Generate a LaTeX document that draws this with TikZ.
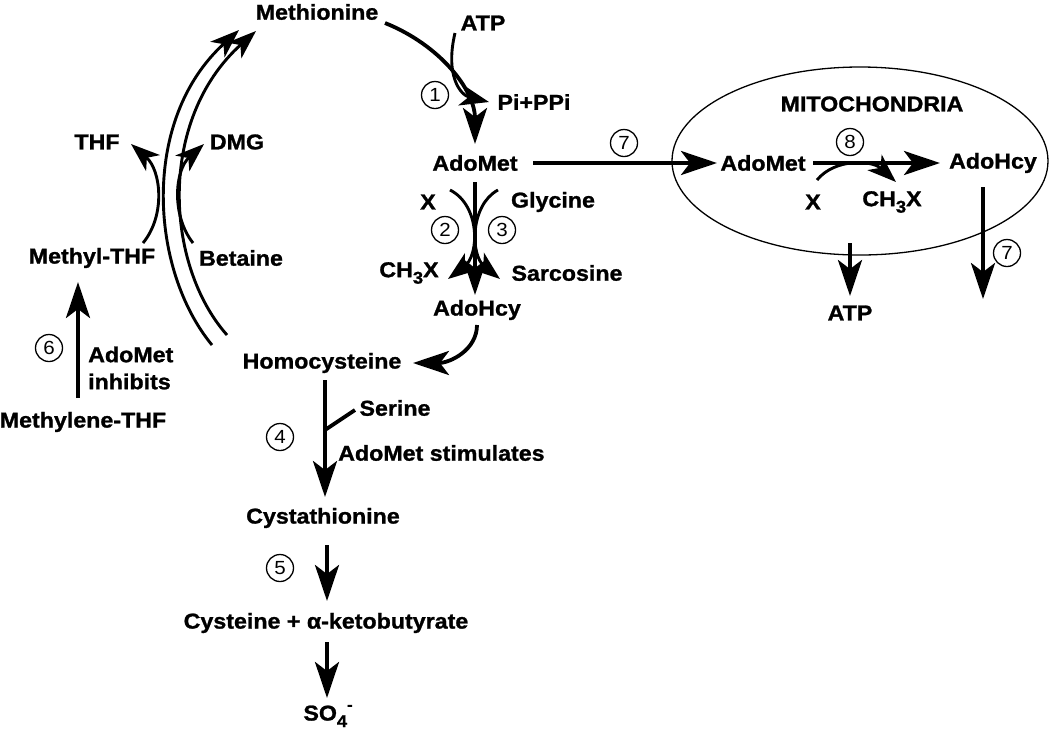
\documentclass[tikz,border=0pt]{standalone}
\usepackage{fontspec}
\setmainfont{Liberation Sans}[FakeStretch=1.08, BoldFeatures={FakeBold=1.2}]
\usetikzlibrary{arrows.meta,shapes.geometric}
\newcommand{\lowsub}[1]{\raisebox{-0.3em}{\fontsize{17}{17}\selectfont #1}}
\newcommand{\upsup}[1]{\raisebox{0.5em}{\fontsize{15}{15}\selectfont #1}}
\begin{document}
\begin{tikzpicture}[x=1pt,y=-1pt,
 lbl/.style={font=\fontsize{21.5}{27}\selectfont\bfseries, inner sep=0pt},
 num/.style={circle, draw, line width=1.3pt, minimum size=27pt, inner sep=0pt, font=\fontsize{19}{19}\selectfont},
 arr/.style={line width=3.8pt, -{Stealth[length=36pt 0 0,width=24pt 0 0,inset=9pt 0]}},
 carr/.style={line width=2.9pt, -{Stealth[length=29pt 0 0,width=21pt 0 0,inset=8pt 0]}},
 ln/.style={line width=3.8pt}]
\useasboundingbox (0,0) rectangle (1050,732);
% labels
\node[lbl] (met) at (317,12) {Methionine};
\node[lbl] (atp) at (483,23) {ATP};
\node[lbl] (pippi) at (534,102) {Pi+PPi};
\node[lbl] (adomet) at (475,163) {AdoMet};
\node[lbl] (x) at (428,202) {X};
\node[lbl] (gly) at (553,202) {Glycine};
\node[lbl] (ch3x) at (409,273) {CH\lowsub{3}X};
\node[lbl] (sarc) at (567,273) {Sarcosine};
\node[lbl] (adohcy) at (477,310) {AdoHcy};
\node[lbl] (hcy) at (322,363) {Homocysteine};
\node[lbl] (ser) at (395,408) {Serine};
\node[lbl, anchor=west] (stim) at (338,453) {AdoMet stimulates};
\node[lbl] (cysta) at (323,518) {Cystathionine};
\node[lbl] (cys) at (326,623) {Cysteine + α-ketobutyrate};
\node[lbl] (so4) at (328,716) {SO\lowsub{4}\upsup{-}};
\node[lbl] (thf) at (97,142) {THF};
\node[lbl] (dmg) at (237,142) {DMG};
\node[lbl] (mthf) at (92,258) {Methyl-THF};
\node[lbl] (bet) at (241,258) {Betaine};
\node[lbl, anchor=west, align=left] (inh) at (88,368) {AdoMet\\inhibits};
\node[lbl] (mlthf) at (83,422) {Methylene-THF};
% mitochondria
\node[ellipse, draw, line width=1.3pt, minimum width=376pt, minimum height=188pt] (mito) at (860,161) {};
\node[lbl] (mitot) at (872,104) {MITOCHONDRIA};
\node[lbl] (madomet) at (763,163) {AdoMet};
\node[lbl] (madohcy) at (993,163) {AdoHcy};
\node[lbl] (mx) at (813,202) {X};
\node[lbl] (mch3x) at (892,202) {CH\lowsub{3}X};
\node[lbl] (matp) at (850,313) {ATP};
% step numbers
\node[num] (n1) at (435,95) {1};
\node[num] (n2) at (445,230) {2};
\node[num] (n3) at (502,230) {3};
\node[num] (n4) at (280,437) {4};
\node[num] (n5) at (280,568) {5};
\node[num] (n6) at (49,348) {6};
\node[num] (n7) at (624,143) {7};
\node[num] (n8) at (850,142) {8};
\node[num] (n7b) at (1007,253) {7};
% coordinates
\coordinate (a1) at (385,23);
\coordinate (a2) at (475,144);
\coordinate (b1) at (455,33);
\coordinate (b2) at (489,102);
\coordinate (c1) at (475,182);
\coordinate (c2) at (475,295);
\coordinate (d1) at (450,190);
\coordinate (d2) at (448,279);
\coordinate (e1) at (498,190);
\coordinate (e2) at (500,279);
\coordinate (f1) at (477,325);
\coordinate (f2) at (413,363);
\coordinate (g1) at (325,380);
\coordinate (g2) at (325,497);
\coordinate (g3) at (325,430);
\coordinate (g4) at (355,410);
\coordinate (h1) at (327,545);
\coordinate (h2) at (327,601);
\coordinate (i1) at (327,642);
\coordinate (i2) at (327,698);
\coordinate (j1) at (78,398);
\coordinate (j2) at (78,282);
\coordinate (k1) at (212,345);
\coordinate (k2) at (239,30);
\coordinate (l1) at (227,335);
\coordinate (l2) at (256,31);
\coordinate (m1) at (143,243);
\coordinate (m2) at (131,144);
\coordinate (o1) at (193,243);
\coordinate (o2) at (204,144);
\coordinate (p1) at (533,163);
\coordinate (p2) at (717,163);
\coordinate (q1) at (813,163);
\coordinate (q2) at (940,163);
\coordinate (r1) at (817,180);
\coordinate (r2) at (896,182);
\coordinate (s1) at (850,243);
\coordinate (s2) at (850,296);
\coordinate (t1) at (983,187);
\coordinate (t2) at (983,299);
% connectors
\draw[arr] (a1) .. controls (440,45) and (475,90) .. (a2);
\draw[carr] (b1) .. controls (445,75) and (460,95) .. (b2);
\draw[arr] (c1) -- (c2);
\draw[carr] (d1) .. controls (480,205) and (480,255) .. (d2);
\draw[carr] (e1) .. controls (470,205) and (470,255) .. (e2);
\draw[arr] (f1) .. controls (477,350) and (450,363) .. (f2);
\draw[arr] (g1) -- (g2);
\draw[ln] (g3) -- (g4);
\draw[arr] (h1) -- (h2);
\draw[arr] (i1) -- (i2);
\draw[arr] (j1) -- (j2);
\draw[carr] (k1) .. controls (150,270) and (140,120) .. (k2);
\draw[carr] (l1) .. controls (165,265) and (157,120) .. (l2);
\draw[carr] (m1) .. controls (166,215) and (161,170) .. (m2);
\draw[carr] (o1) .. controls (171,215) and (175,170) .. (o2);
\draw[arr] (p1) -- (p2);
\draw[arr] (q1) -- (q2);
\draw[carr] (r1) .. controls (835,158) and (872,160) .. (r2);
\draw[arr] (s1) -- (s2);
\draw[arr] (t1) -- (t2);
\end{tikzpicture}
\end{document}
